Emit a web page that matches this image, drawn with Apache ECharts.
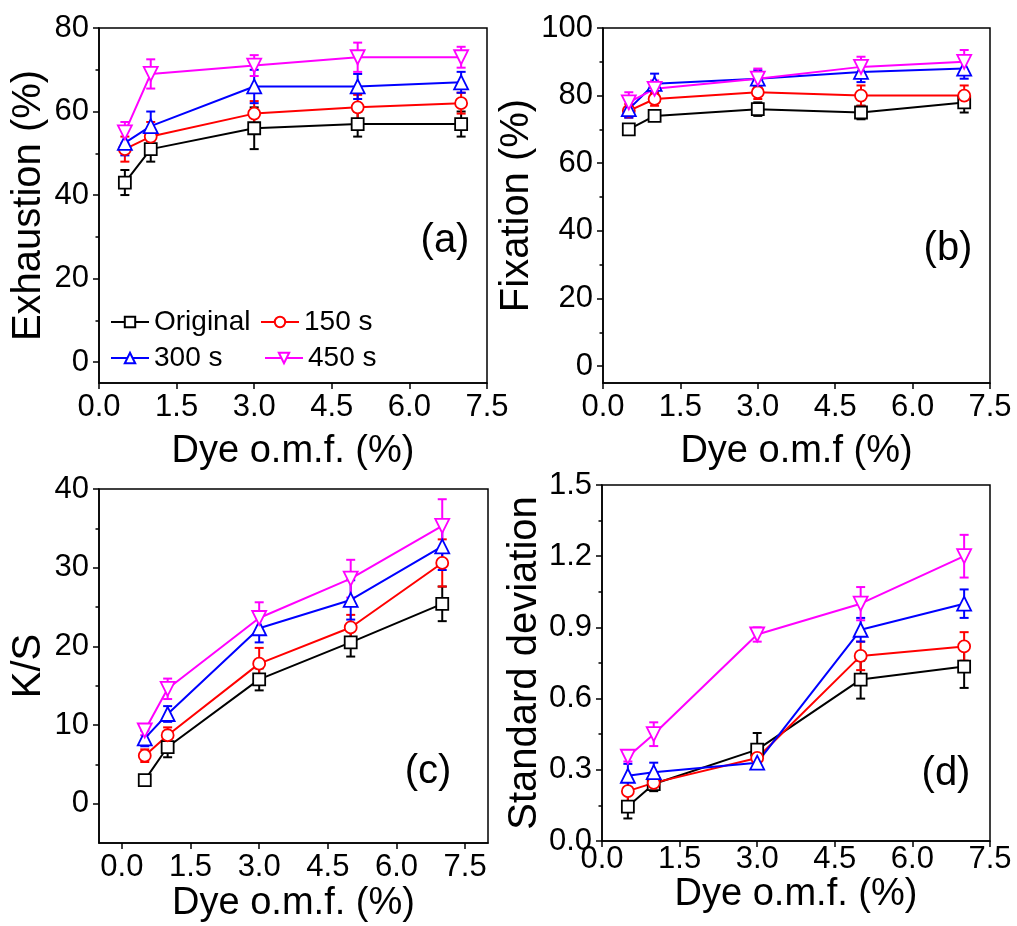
<!DOCTYPE html>
<html>
<head>
<meta charset="utf-8">
<script src="https://cdn.jsdelivr.net/npm/echarts@6/dist/echarts.min.js"></script>
<style>
  html, body { margin: 0; background: #fff; }
  #chart { width: 1017px; height: 926px; }
</style>
</head>
<body>
<div id="chart"></div>
<script>
const doses = [0.5, 1, 3, 5, 7]
const seriesNames = ['Original', '150 s', '300 s', '450 s']

// (a) exhaustion
const exhOriginal = [43, 51, 56, 57, 57]
const exhOriginalErr = [3, 3, 5, 3, 3]
const exh150 = [51, 54, 59.5, 61, 62]
const exh150Err = [3, 3.5, 3, 3, 2.5]
const exh300 = [52.5, 56.5, 66, 66, 67]
const exh300Err = [3, 3.5, 4, 3, 2.5]
const exh450 = [55, 69, 71, 73, 73]
const exh450Err = [2.5, 3.5, 2.5, 3.5, 2.5]

// (b) fixation
const fixOriginal = [70, 74, 76, 75, 78]
const fixOriginalErr = [1.5, 1.5, 2, 2, 3]
const fix150 = [75.5, 79, 81, 80, 80]
const fix150Err = [2, 2, 2, 3, 3]
const fix300 = [76, 83.5, 85, 87, 88]
const fix300Err = [2.5, 3, 2.5, 3, 3]
const fix450 = [78, 82, 85, 88.5, 90]
const fix450Err = [3, 2.5, 3, 3, 3.5]

// (c) K/S
const ksOriginal = [3.0, 7.2, 15.8, 20.5, 25.4]
const ksOriginalErr = [0.4, 1.3, 1.4, 1.8, 2.2]
const ks150 = [6.1, 8.7, 17.8, 22.4, 30.6]
const ks150Err = [0.8, 1.0, 2.0, 1.6, 3.0]
const ks300 = [8.3, 11.4, 22.3, 25.9, 32.7]
const ks300Err = [1.0, 1.0, 1.8, 2.5, 3.0]
const ks450 = [9.3, 14.6, 23.6, 28.6, 35.3]
const ks450Err = [0.6, 1.3, 2.0, 2.4, 3.4]

// (d) standard deviation
const sdOriginal = [0.145, 0.24, 0.385, 0.68, 0.735]
const sdOriginalErr = [0.05, 0.03, 0.07, 0.08, 0.09]
const sd150 = [0.21, 0.245, 0.35, 0.78, 0.82]
const sd150Err = [0.05, 0.03, 0.03, 0.06, 0.06]
const sd300 = [0.275, 0.29, 0.33, 0.89, 1.0]
const sd300Err = [0.05, 0.04, 0.02, 0.05, 0.06]
const sd450 = [0.355, 0.45, 0.87, 1.0, 1.2]
const sd450Err = [0.02, 0.05, 0.03, 0.07, 0.09]

// tick labels
const doseTicks = [0, 1.5, 3, 4.5, 6, 7.5]
const exhTicks = [0, 20, 40, 60, 80]
const exhMinor = [10, 30, 50, 70]
const fixTicks = [0, 20, 40, 60, 80, 100]
const fixMinor = [10, 30, 50, 70, 90]
const ksTicks = [0, 10, 20, 30, 40]
const ksMinor = [5, 15, 25, 35]
const sdTicks = [0, 0.3, 0.6, 0.9, 1.2, 1.5]
const sdMinor = [0.15, 0.45, 0.75, 1.05, 1.35]

const FONT = '"Liberation Sans", Arial, sans-serif'
const colors = ['#000000', '#ff0000', '#0000ff', '#ff00ff']
const symbols = ['rect', 'circle', 'triangle', 'triangle']
const rotations = [0, 0, 0, 180]

const panels = [
  { grid: { left: 99, top: 28, width: 388, height: 355 },
    xMin: 0, xMax: 7.5, yMin: -5, yMax: 80,
    ticks: exhTicks, minor: exhMinor, yFmt: v => String(v),
    xName: 'Dye o.m.f. (%)', yName: 'Exhaustion (%)', xGap: 50, yGap: 50, xMargin: 9,
    values: [exhOriginal, exh150, exh300, exh450],
    errors: [exhOriginalErr, exh150Err, exh300Err, exh450Err] },
  { grid: { left: 603, top: 28, width: 387, height: 355 },
    xMin: 0, xMax: 7.5, yMin: -5, yMax: 100,
    ticks: fixTicks, minor: fixMinor, yFmt: v => String(v),
    xName: 'Dye o.m.f (%)', yName: 'Fixation (%)', xGap: 50, yGap: 58, xMargin: 9,
    values: [fixOriginal, fix150, fix300, fix450],
    errors: [fixOriginalErr, fix150Err, fix300Err, fix450Err] },
  { grid: { left: 99, top: 489, width: 389, height: 354 },
    xMin: -0.5, xMax: 8, yMin: -5, yMax: 40,
    ticks: ksTicks, minor: ksMinor, yFmt: v => String(v),
    xName: 'Dye o.m.f. (%)', yName: 'K/S', xGap: 42, yGap: 50, xMargin: 9,
    values: [ksOriginal, ks150, ks300, ks450],
    errors: [ksOriginalErr, ks150Err, ks300Err, ks450Err] },
  { grid: { left: 602, top: 485, width: 388, height: 356 },
    xMin: 0, xMax: 7.5, yMin: 0, yMax: 1.5,
    ticks: sdTicks, minor: sdMinor, yFmt: v => v.toFixed(1),
    xName: 'Dye o.m.f. (%)', yName: 'Standard deviation', xGap: 34, yGap: 52, xMargin: 3,
    values: [sdOriginal, sd150, sd300, sd450],
    errors: [sdOriginalErr, sd150Err, sd300Err, sd450Err] }
]

const axisLineStyle = { color: '#000', width: 1.5 }
const grids = [], xAxes = [], yAxes = [], series = []

panels.forEach((p, g) => {
  grids.push(Object.assign({ show: true, borderColor: '#000', borderWidth: 1.5, containLabel: false }, p.grid))
  xAxes.push({
    gridIndex: g, type: 'value', min: p.xMin, max: p.xMax,
    axisLine: { onZero: false, lineStyle: axisLineStyle },
    axisTick: { customValues: doseTicks, length: 6, lineStyle: axisLineStyle },
    axisLabel: { customValues: doseTicks, formatter: v => v.toFixed(1), fontSize: 31, color: '#000', fontFamily: FONT, margin: p.xMargin },
    splitLine: { show: false },
    name: p.xName, nameLocation: 'middle', nameGap: p.xGap,
    nameTextStyle: { fontSize: 38, color: '#000', fontFamily: FONT }
  })
  // major ticks + labels
  yAxes.push({
    gridIndex: g, type: 'value', position: 'left', min: p.yMin, max: p.yMax,
    axisLine: { show: true, onZero: false, lineStyle: axisLineStyle },
    axisTick: { customValues: p.ticks, length: 6, lineStyle: axisLineStyle },
    axisLabel: { customValues: p.ticks, formatter: p.yFmt, fontSize: 31, color: '#000', fontFamily: FONT, margin: 10 },
    splitLine: { show: false },
    name: p.yName, nameLocation: 'middle', nameGap: p.yGap,
    nameTextStyle: { fontSize: 40, color: '#000', fontFamily: FONT }
  })
  // minor ticks
  yAxes.push({
    gridIndex: g, type: 'value', position: 'left', offset: 0, min: p.yMin, max: p.yMax,
    axisLine: { show: false, onZero: false },
    axisTick: { customValues: p.minor, length: 3.5, lineStyle: axisLineStyle },
    axisLabel: { show: false },
    splitLine: { show: false }
  })

  seriesNames.forEach((name, s) => {
    const c = colors[s]
    const vals = p.values[s], errs = p.errors[s]
    series.push({
      type: 'custom', name: 'err ' + name, xAxisIndex: g, yAxisIndex: 2 * g, z: 2, silent: true,
      data: doses.map((x, i) => [x, vals[i], errs[i]]),
      renderItem: (params, api) => {
        const x = api.value(0), y = api.value(1), e = api.value(2)
        const top = api.coord([x, y + e]), bot = api.coord([x, y - e])
        const cap = 4.5
        const st = { stroke: c, lineWidth: 2 }
        return { type: 'group', children: [
          { type: 'line', shape: { x1: top[0], y1: top[1], x2: bot[0], y2: bot[1] }, style: st },
          { type: 'line', shape: { x1: top[0] - cap, y1: top[1], x2: top[0] + cap, y2: top[1] }, style: st },
          { type: 'line', shape: { x1: bot[0] - cap, y1: bot[1], x2: bot[0] + cap, y2: bot[1] }, style: st }
        ] }
      }
    })
    series.push({
      type: 'line', name: name, xAxisIndex: g, yAxisIndex: 2 * g, z: 3,
      data: doses.map((x, i) => [x, vals[i]]),
      symbol: symbols[s], symbolSize: s >= 2 ? 14 : 12, symbolRotate: rotations[s],
      showAllSymbol: true,
      itemStyle: { color: '#fff', borderColor: c, borderWidth: 1.8 },
      lineStyle: { color: c, width: 2 },
      emphasis: { disabled: true }
    })
  })
})

const legendBase = {
  orient: 'horizontal', padding: 0, itemWidth: 38, itemHeight: 13,
  textStyle: { fontSize: 28, color: '#000', fontFamily: FONT },
  selectedMode: false
}
const legends = [
  Object.assign({ data: ['Original'], left: 110, top: 308 }, legendBase),
  Object.assign({ data: ['150 s'], left: 260, top: 308 }, legendBase),
  Object.assign({ data: ['300 s'], left: 110, top: 344 }, legendBase),
  Object.assign({ data: ['450 s'], left: 264, top: 344 }, legendBase)
]

const panelLabel = (text, x, y) => ({
  type: 'text', x: x, y: y,
  style: { text: text, fontSize: 40, fontFamily: FONT, fill: '#000', align: 'center', verticalAlign: 'middle' }
})

const chart = echarts.init(document.getElementById('chart'))
chart.setOption({
  animation: false,
  backgroundColor: '#fff',
  grid: grids,
  xAxis: xAxes,
  yAxis: yAxes,
  legend: legends,
  series: series,
  graphic: [
    panelLabel('(a)', 445, 241),
    panelLabel('(b)', 948, 249),
    panelLabel('(c)', 428, 772),
    panelLabel('(d)', 946, 774)
  ]
})
window.addEventListener('resize', () => { chart.resize() })
</script>
</body>
</html>
